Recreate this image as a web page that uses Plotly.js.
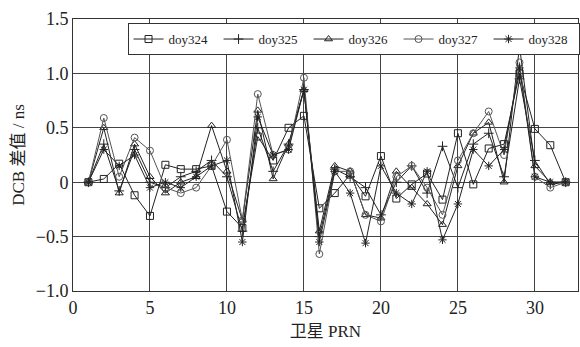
<!DOCTYPE html>
<html>
<head>
<meta charset="utf-8">
<script src="https://cdn.plot.ly/plotly-3.0.1.min.js"></script>
<style>html,body{margin:0;padding:0;background:#fff;}#chart{width:580px;height:347px;}</style>
</head>
<body>
<div id="chart"></div>
<script>
const prn = [1,2,3,4,5,6,7,8,9,10,11,12,13,14,15,16,17,18,19,20,21,22,23,24,25,26,27,28,29,30,31,32];
const doy324 = [0,0.03,0.17,-0.12,-0.31,0.16,0.12,0.12,0.15,-0.27,-0.42,0.42,0.2,0.5,0.61,-0.24,-0.1,0.07,-0.13,0.24,-0.15,-0.02,0.08,-0.16,0.45,-0.02,0.31,0.35,1.0,0.49,0.34,0];
const doy325 = [0,0.35,-0.08,0.3,0.0,-0.05,0.05,0.1,0.2,0.05,-0.45,0.5,0.1,0.35,0.85,-0.5,0.12,0.05,-0.05,-0.3,0.0,0.15,-0.1,0.33,-0.05,0.35,0.45,0.05,0.95,0.2,-0.02,0];
const doy326 = [0,0.5,-0.1,0.35,0.05,-0.1,0.0,0.05,0.52,0.1,-0.35,0.66,0.03,0.35,0.85,-0.45,0.15,0.1,-0.3,-0.33,0.1,-0.05,-0.2,-0.39,0.15,0.45,0.55,0.0,1.25,0.15,0.0,0];
const doy327 = [0,0.59,0.05,0.41,0.29,-0.05,-0.1,-0.05,0.15,0.39,-0.35,0.81,0.25,0.3,0.96,-0.66,0.1,0.1,-0.3,-0.36,0.05,0.15,-0.05,-0.3,0.2,0.45,0.65,0.25,1.1,0.05,-0.05,0];
const doy328 = [0,0.3,0.15,0.25,-0.05,0.0,-0.05,0.05,0.15,0.2,-0.55,0.6,0.25,0.3,0.85,-0.55,0.1,-0.1,-0.56,0.15,-0.1,-0.2,0.1,-0.53,-0.2,0.3,0.15,0.3,1.05,0.05,0.0,0];
const names = ['doy324','doy325','doy326','doy327','doy328'];
const symbols = ['square-open','cross-thin-open','triangle-up-open','circle-open','asterisk-open'];
const series = [doy324, doy325, doy326, doy327, doy328];
const colors = ['#222','#222','#222','#555','#222'];
const yTicks = [-1,-0.5,0,0.5,1,1.5];
const yTickText = ['−1.0','−0.5','0','0.5','1.0','1.5'];
const xTicks = [0,5,10,15,20,25,30];

const traces = series.map((s,i)=>({
  x: prn, y: s, name: names[i], type:'scatter', mode:'lines+markers',
  line:{color:colors[i], width:1},
  marker:{symbol:symbols[i], size:7, color:colors[i], line:{color:colors[i], width:1}}
}));

const font = {family:'"Liberation Serif", "Noto Sans CJK SC", serif', color:'#222'};
const layout = {
  width:580, height:347,
  margin:{l:73, r:2, t:19, b:56, autoexpand:false},
  paper_bgcolor:'#fff', plot_bgcolor:'#fff',
  font: Object.assign({size:16}, font),
  showlegend:true,
  legend:{orientation:'h', x:0.108, xanchor:'left', y:0.985, yanchor:'top',
    bgcolor:'#fff', bordercolor:'#333', borderwidth:1,
    font:Object.assign({size:13}, font), entrywidth:45, entrywidthmode:'pixels', itemwidth:30,
    tracegroupgap:0},
  xaxis:{range:[0,32.8], tickvals:xTicks, showgrid:true, gridcolor:'#444', gridwidth:1,
    zeroline:false, showline:true, linecolor:'#333', linewidth:1, mirror:true, ticks:'',
    tickfont:Object.assign({size:18}, font),
    title:{text:'卫星 PRN', font:Object.assign({size:17}, font), standoff:8}},
  yaxis:{range:[-1,1.5], tickvals:yTicks, ticktext:yTickText, showgrid:true, gridcolor:'#444', gridwidth:1,
    zeroline:false, showline:true, linecolor:'#333', linewidth:1, mirror:true, ticks:'',
    tickfont:Object.assign({size:18}, font),
    title:{text:'DCB 差值 / ns', font:Object.assign({size:17}, font), standoff:6}}
};
Plotly.newPlot('chart', traces, layout, {displayModeBar:false, staticPlot:true});
</script>
</body>
</html>
